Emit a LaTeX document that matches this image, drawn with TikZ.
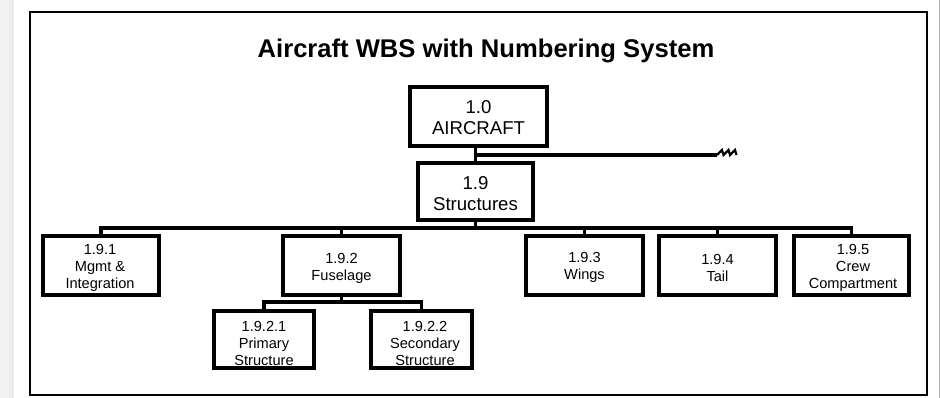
\documentclass[tikz,border=0pt]{standalone}
\usepackage{fontspec}
\setmainfont{Liberation Sans}
\begin{document}
\begin{tikzpicture}[x=1pt,y=-1pt,
  wbsbox/.style={draw=black,line width=3.2pt,rectangle,inner sep=0pt,fill=white},
  bigtxt/.style={align=center,inner sep=0pt,font=\fontsize{18.6}{21}\selectfont},
  smalltxt/.style={align=center,inner sep=0pt,font=\fontsize{14.6}{17}\selectfont},
  wire/.style={draw=black,line width=3.2pt,line join=miter}]
% page area and shadow edges
\useasboundingbox (0,0) rectangle (941,398);
\fill[white] (0,0) rectangle (941,398);
\fill[black!5] (0,0) rectangle (14,398);
\fill[black!8] (9,0) rectangle (14,398);
\draw[black!30,line width=0.8pt] (939.5,0) -- (939.5,398);
% outer frame
\draw[black,line width=2.4pt] (30,12) rectangle (927,395);
% title
\node[font=\fontsize{25.6}{28}\selectfont\bfseries,inner sep=0pt] (title) at (486,51) {Aircraft WBS with Numbering System};

% level 0 and level 1
\node[wbsbox,minimum width=137pt,minimum height=59pt] (top) at (478.5,116.5) {};
\node[bigtxt] (topt) at (478.5,118) {1.0\\AIRCRAFT};
\node[wbsbox,minimum width=115pt,minimum height=57pt] (str) at (475.5,191.5) {};
\node[bigtxt] (strt) at (475.5,194) {1.9\\Structures};

% level 2
\foreach \n/\cx/\w in {b1/101/116, b2/341.5/117, b3/584.5/117, b4/717.5/117, b5/851.5/115}
  \node[wbsbox,minimum width=\w pt,minimum height=59pt] (\n) at (\cx,265.5) {};
\node[smalltxt] (b1t) at (100,268) {1.9.1\\Mgmt \&\\Integration};
\node[smalltxt] (b2t) at (341.5,268) {1.9.2\\Fuselage};
\node[smalltxt] (b3t) at (584.5,267.5) {1.9.3\\Wings};
\node[smalltxt] (b4t) at (717.5,267.5) {1.9.4\\Tail};
\node[smalltxt] (b5t) at (853,268) {1.9.5\\Crew\\Compartment};

% level 3
\node[wbsbox,minimum width=100pt,minimum height=57pt] (c1) at (264,339.5) {};
\node[wbsbox,minimum width=101pt,minimum height=57pt] (c2) at (421.5,339.5) {};
\node[smalltxt] (c1t) at (264,343) {1.9.2.1\\Primary\\Structure};
\node[smalltxt] (c2t) at (425,343) {1.9.2.2\\Secondary\\Structure};

% connectors
\coordinate (fork) at (475.5,155);
\coordinate (brk) at (717,155);
\coordinate (bus) at (0,228);
\coordinate (sub) at (0,302);
\draw[wire] (str.north) -- (str.north |- top.south);
\draw[wire] (fork) -- (brk);
\draw[black,line width=2.2pt,line join=miter] (brk) -- ++(5,-5) -- ++(1.5,5) -- ++(5,-5) -- ++(1.5,5) -- ++(5,-5) -- ++(1.5,5);
\draw[wire] (str.south) -- (str.south |- bus);
\draw[wire] (b1.north) -- (b1.north |- bus) -- (b5.north |- bus) -- (b5.north);
\foreach \n in {b2,b3,b4} \draw[wire] (\n.north |- bus) -- (\n.north);
\draw[wire] (b2.south) -- (b2.south |- sub);
\draw[wire] (c1.north) -- (c1.north |- sub) -- (c2.north |- sub) -- (c2.north);
\end{tikzpicture}
\end{document}
